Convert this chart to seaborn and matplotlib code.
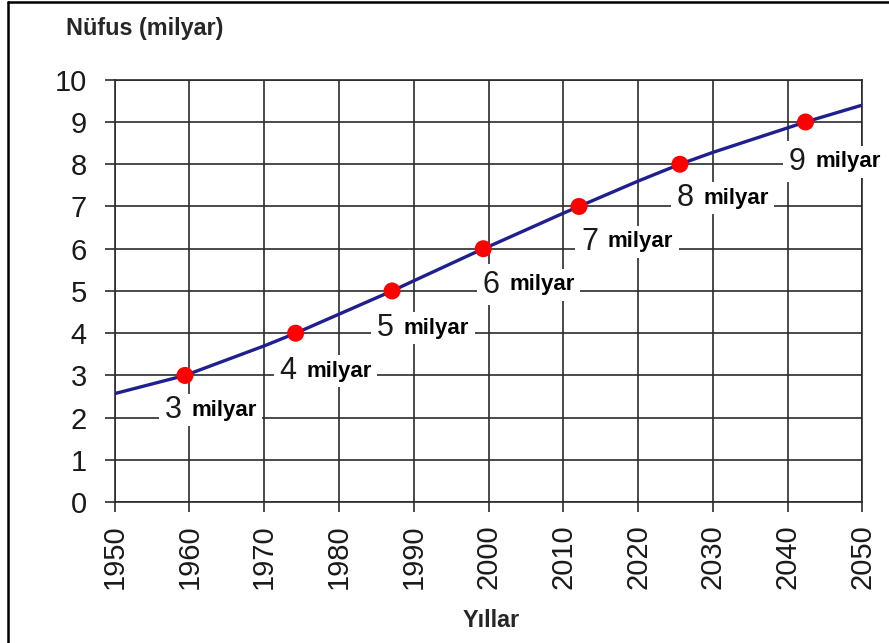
import numpy as np
import pandas as pd
import seaborn as sns
import matplotlib.pyplot as plt
from matplotlib.lines import Line2D

# -------- data --------
curve_years = [1950, 1959.4, 1970, 1974.2, 1980, 1987.1, 1990, 1999.3, 2000,
               2010, 2012.1, 2020, 2025.6, 2030, 2035, 2040, 2042.4, 2050]
curve_pop = [2.57, 3.0, 3.7, 4.0, 4.45, 5.0, 5.24, 6.0, 6.05,
             6.84, 7.0, 7.6, 8.0, 8.28, 8.57, 8.86, 9.0, 9.4]

mark_years = [1959.4, 1974.2, 1987.1, 1999.3, 2012.1, 2025.6, 2042.4]
mark_pop = [3, 4, 5, 6, 7, 8, 9]

# where each "N milyar" label sits (split point between number and word)
label_x = [1959.5, 1974.9, 1987.9, 2002.0, 2015.2, 2028.0, 2043.0]
label_y = [2.18, 3.1, 4.12, 5.15, 6.16, 7.2, 8.06]

x_ticks = list(range(1950, 2051, 10))
y_ticks = list(range(0, 11))

curve = pd.DataFrame({"year": curve_years, "pop": curve_pop})
marks = pd.DataFrame({"year": mark_years, "pop": mark_pop})

# -------- figure --------
sns.set_theme(style="white")
plt.rcParams["font.family"] = ["Liberation Sans", "DejaVu Sans"]

fig = plt.figure(figsize=(8.89, 6.43), dpi=100)
ax = fig.add_axes([0.129, 0.219, 0.841, 0.657])

grid_col = "#2b2b2b"
ax.set_xlim(1950, 2050)
ax.set_ylim(0, 10)
ax.set_xticks(x_ticks)
ax.set_yticks(y_ticks)
ax.grid(True, color=grid_col, linewidth=1.2, zorder=0)
ax.set_axisbelow(True)
for s in ax.spines.values():
    s.set_color(grid_col)
    s.set_linewidth(1.2)
ax.tick_params(axis="both", direction="out", length=7, width=1.2, color=grid_col,
               labelsize=21, labelcolor="#1a1a1a")
ax.tick_params(axis="x", pad=9, labelrotation=90)
ax.tick_params(axis="y", pad=13)
ax.xaxis.set_ticks_position("bottom")
ax.yaxis.set_ticks_position("left")

sns.lineplot(data=curve, x="year", y="pop", ax=ax, color="#1f1f8f",
             linewidth=2.4, zorder=3)
sns.scatterplot(data=marks, x="year", y="pop", ax=ax, color="#ff0000",
                s=150, edgecolor="none", zorder=5)

ax.set_xlabel("")
ax.set_ylabel("")

box = dict(facecolor="white", edgecolor="none", pad=4)
for lx, ly, n in zip(label_x, label_y, mark_pop):
    ax.annotate(str(n), (lx, ly), xytext=(-3, 0), textcoords="offset points",
                ha="right", va="center", fontsize=22, color="#1a1a1a",
                bbox=box, zorder=4, annotation_clip=False)
    ax.annotate("milyar", (lx, ly), xytext=(4, 0), textcoords="offset points",
                ha="left", va="center", fontsize=16, fontweight="bold",
                color="black", bbox=box, zorder=4, annotation_clip=False)

fig.text(0.074, 0.955, "Nüfus (milyar)", fontsize=16.8, fontweight="bold",
         ha="left", va="center")
fig.text(0.553, 0.035, "Yıllar", fontsize=16.8, fontweight="bold",
         ha="center", va="center")

# frame lines (top and left only, as in the picture)
fig.add_artist(Line2D([0.009, 1.0], [0.9975, 0.9975], transform=fig.transFigure,
                      color="black", linewidth=1.8))
fig.add_artist(Line2D([0.009, 0.009], [0.0, 0.9975], transform=fig.transFigure,
                      color="black", linewidth=1.8))

fig.savefig("out.png", dpi=100)
